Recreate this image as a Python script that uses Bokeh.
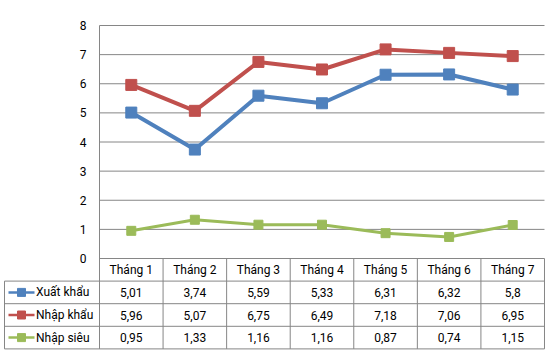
from bokeh.plotting import figure
from bokeh.models import Range1d
from bokeh.core.properties import value
from bokeh.embed import file_html
from bokeh.resources import INLINE

# ---- data ----
months = ["Tháng 1", "Tháng 2", "Tháng 3", "Tháng 4", "Tháng 5", "Tháng 6", "Tháng 7"]
series_names = ["Xuất khẩu", "Nhập khẩu", "Nhập siêu"]
xuat_khau = [5.01, 3.74, 5.59, 5.33, 6.31, 6.32, 5.8]
nhap_khau = [5.96, 5.07, 6.75, 6.49, 7.18, 7.06, 6.95]
nhap_sieu = [0.95, 1.33, 1.16, 1.16, 0.87, 0.74, 1.15]
y_ticks = [0, 1, 2, 3, 4, 5, 6, 7, 8]

# ---- styles ----
colors = ["#4F81BD", "#C0504D", "#9BBB59"]
line_widths = [4, 4, 3]
marker_sizes = [11, 11, 9]
GRID = "#868686"
FONT = "Roboto"
FS = "12px"

PX_X = 63.57   # px per column
PX_Y = 29.125  # px per y unit
AXIS_PX = 99   # screen x of the value axis
ROW = 0.776    # table row height in data units
LEG_L = -(AXIS_PX - 4) / PX_X  # left edge of the legend column

series = [xuat_khau, nhap_khau, nhap_sieu]
n = len(months)
xs = [i + 0.5 for i in range(n)]

p = figure(width=550, height=352, output_backend="svg", toolbar_location=None,
           x_axis_type=None, y_axis_type=None,
           x_range=Range1d(-AXIS_PX / PX_X, (550 - AXIS_PX) / PX_X),
           y_range=Range1d(8 - 325 / PX_Y, 8 + 5 / PX_Y),
           min_border=0, min_border_left=0, min_border_right=0,
           min_border_top=20, min_border_bottom=2)
p.outline_line_color = None
p.grid.visible = False
p.background_fill_color = "white"
p.border_fill_color = "white"

y_bottom = -4 * ROW

def px(sx):
    return (sx - AXIS_PX) / PX_X

# horizontal gridlines
p.segment(x0=[0] * len(y_ticks), x1=[n] * len(y_ticks), y0=y_ticks, y1=y_ticks,
          line_color=GRID, line_width=1)
# table horizontal lines
row_lines = [-(k + 1) * ROW for k in range(4)]
p.segment(x0=[LEG_L] * 4, x1=[n] * 4, y0=row_lines, y1=row_lines,
          line_color=GRID, line_width=1)
# value axis line / left border of month columns
p.segment(x0=[0], x1=[0], y0=[y_ticks[-1]], y1=[y_bottom], line_color=GRID, line_width=1)
# column separators in table
p.segment(x0=list(range(1, n + 1)), x1=list(range(1, n + 1)),
          y0=[0] * n, y1=[y_bottom] * n, line_color=GRID, line_width=1)
# legend column left border
p.segment(x0=[LEG_L], x1=[LEG_L], y0=[-ROW], y1=[y_bottom], line_color=GRID, line_width=1)

# y tick labels
p.text(x=[px(86)] * len(y_ticks), y=y_ticks, text=[str(t) for t in y_ticks],
       text_align="right", text_baseline="middle", text_font=value(FONT),
       text_font_size=FS, text_color="#000000")

# series lines + markers
for vals, c, lw, ms in zip(series, colors, line_widths, marker_sizes):
    p.line(xs, vals, line_color=c, line_width=lw)
    p.scatter(xs, vals, marker="square", size=ms, fill_color=c, line_color=c)

# table header
p.text(x=xs, y=[-ROW / 2] * n, text=months, text_align="center", text_baseline="middle",
       text_font=value(FONT), text_font_size=FS, text_color="#000000")

# table rows
for r, (name, vals, c) in enumerate(zip(series_names, series, colors)):
    yr = -(r + 1) * ROW - ROW / 2
    labels = [f"{v:g}".replace(".", ",") for v in vals]
    p.text(x=xs, y=[yr] * n, text=labels, text_align="center", text_baseline="middle",
           text_font=value(FONT), text_font_size=FS, text_color="#000000")
    p.line([px(8), px(34)], [yr, yr], line_color=c, line_width=2.5)
    p.scatter([px(21)], [yr], marker="square", size=8, fill_color=c, line_color=c)
    p.text(x=[px(35.5)], y=[yr], text=[name], text_align="left", text_baseline="middle",
           text_font=value(FONT), text_font_size=FS, text_color="#000000")

open("out.html", "w").write(file_html(p, INLINE))
